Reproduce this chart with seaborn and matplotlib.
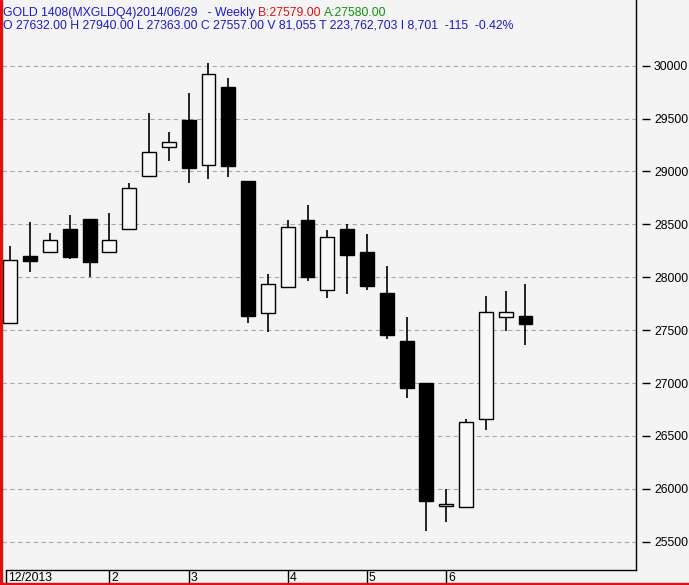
import matplotlib
matplotlib.use("Agg")
import matplotlib.pyplot as plt
import matplotlib.patches as mpatches
import matplotlib.transforms as mtransforms
import seaborn as sns
import numpy as np

# weekly OHLC
opens = [27565, 28201, 28236, 28457, 28548, 28242, 28454, 28955, 29229, 29487, 29059, 29799, 28910, 27660,
         27905, 28542, 27877, 28457, 28239, 27852, 27398, 27000, 25839, 25830, 26660, 27622, 27632]
highs = [28296, 28523, 28419, 28589, 28548, 28605, 28891, 29550, 29373, 29746, 30024, 29884, 28910, 28031,
         28542, 28683, 28447, 28504, 28409, 28110, 27625, 27000, 26000, 26657, 27823, 27871, 27940]
lows = [27565, 28053, 28236, 28176, 28006, 28242, 28454, 28955, 29102, 28894, 28932, 28951, 27571, 27483,
        27905, 27968, 27807, 27845, 27883, 27414, 26862, 25599, 25684, 25817, 26559, 27492, 27363]
closes = [28161, 28157, 28350, 28195, 28147, 28350, 28841, 29181, 29276, 29036, 29919, 29055, 27637, 27934,
          28473, 28006, 28378, 28214, 27921, 27457, 26957, 25883, 25858, 26629, 27669, 27669, 27557]

month_pos = [-0.2, 5, 9, 14, 18, 22]
month_labels = ["12/2013", "2", "3", "4", "5", "6"]
price_ticks = list(range(25500, 30001, 500))

header1 = "GOLD 1408(MXGLDQ4)2014/06/29   - Weekly "
bid_txt = "B:27579.00 "
ask_txt = "A:27580.00"
header2 = "O 27632.00 H 27940.00 L 27363.00 C 27557.00 V 81,055 T 223,762,703 I 8,701  -115  -0.42%"

sns.set_style("white")
plt.rcParams['font.family'] = ['Liberation Sans', 'DejaVu Sans']

bg = "#f4f4f4"
fs = 8.8
fig = plt.figure(figsize=(6.89, 5.85), dpi=100, facecolor=bg)
W, H = 689, 585
ax = fig.add_axes([2 / W, 1 - 570 / H, 634 / W, 540 / H])
ax.set_facecolor(bg)

x = np.arange(len(opens))
o = np.array(opens)
c = np.array(closes)
bottoms = np.minimum(o, c)
heights = np.maximum(np.abs(c - o), 8)
fills = ["black" if cc < oo else "#f8f8f8" for oo, cc in zip(o, c)]

ax.vlines(x, lows, highs, color="black", lw=1.2, zorder=2)
ax.bar(x, heights, bottom=bottoms, width=0.7, color=fills, edgecolor="black", lw=1.0, zorder=3)

ax.set_xlim(-0.42, 31.58)
ax.set_ylim(25233, 30337)

# grid
ax.set_yticks(price_ticks)
ax.yaxis.grid(True, linestyle=(0, (4, 3)), color="#a8a8a8", lw=0.8)
ax.xaxis.grid(False)
ax.set_axisbelow(True)

# right price axis, ticks offset from the frame line
ax.yaxis.tick_right()
ax.spines["right"].set_position(("outward", 4))
ax.spines["right"].set_visible(False)
ax.spines["left"].set_visible(False)
ax.spines["top"].set_visible(False)
ax.plot([1, 1], [0, 1.06], transform=ax.transAxes, color="black", lw=1.0, clip_on=False)
ax.tick_params(axis="y", which="major", right=True, left=False, length=6, width=1.0,
               pad=3, labelsize=fs, colors="black")
ax.set_yticklabels([str(t) for t in price_ticks])

# bottom date axis
ax.spines["bottom"].set_color("black")
ax.spines["bottom"].set_linewidth(1.0)
ax.spines["bottom"].set_bounds(-0.2, 31.58)
ax.set_xticks(month_pos)
ax.set_xticklabels([])
ax.tick_params(axis="x", bottom=True, direction="out", length=10, width=1.0, colors="black")
trans = mtransforms.blended_transform_factory(ax.transData, ax.transAxes)
for p, lab in zip(month_pos, month_labels):
    ax.text(p, -0.003, lab, transform=trans, fontsize=fs, ha="left", va="top",
            color="black").set_transform(trans + mtransforms.ScaledTranslation(2 / 100, 0, fig.dpi_scale_trans))

# header text
fig.canvas.draw()
r = fig.canvas.get_renderer()
blue = "#1a1ac8"
t = fig.text(3 / W, 1 - 16 / H, header1, color=blue, fontsize=fs, ha="left", va="baseline")
ext = t.get_window_extent(r)
t2 = fig.text(ext.x1 / W, 1 - 16 / H, bid_txt, color="#e01010", fontsize=fs, ha="left", va="baseline")
ext2 = t2.get_window_extent(r)
fig.text(ext2.x1 / W, 1 - 16 / H, ask_txt, color="#109010", fontsize=fs, ha="left", va="baseline")
fig.text(3 / W, 1 - 28 / H, header2, color=blue, fontsize=fs, ha="left", va="baseline")

# red window frame on left and bottom
fig.patches.append(mpatches.Rectangle((0, 0), 2 / W, 1, transform=fig.transFigure, color="#e01010", zorder=10))
fig.patches.append(mpatches.Rectangle((0, 0), 1, 2 / H, transform=fig.transFigure, color="#e01010", zorder=10))

fig.savefig("out.png", dpi=100, facecolor=bg)
